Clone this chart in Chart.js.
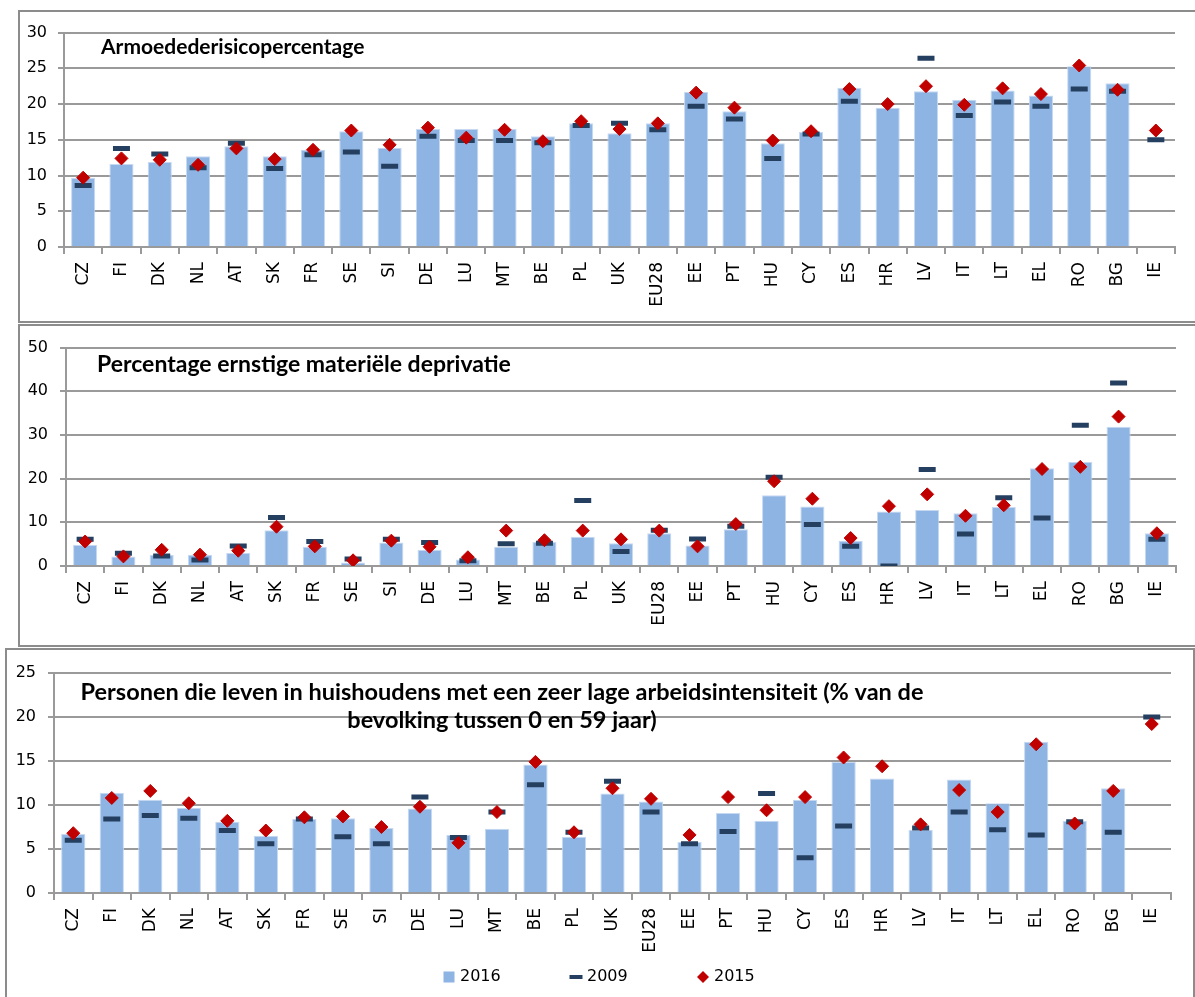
<!DOCTYPE html>
<html>
<head>
<meta charset="utf-8">
<script src="https://cdn.jsdelivr.net/npm/chart.js@4.4.1/dist/chart.umd.min.js"></script>
<style>
  body { margin: 0; width: 1195px; height: 997px; overflow: hidden; background: #fff; position: relative; }
  .panel { position: absolute; border: 2px solid #8c8c8c; box-sizing: border-box; }
  canvas { position: absolute; }
</style>
</head>
<body>
<div class="panel" style="left:18px; top:10px; width:1200px; height:313px;"></div>
<div class="panel" style="left:18px; top:324px; width:1200px; height:323px;"></div>
<div class="panel" style="left:5px; top:648px; width:1190px; height:400px;"></div>
<canvas id="chart1" width="1175" height="309" style="left:20px; top:12px;"></canvas>
<canvas id="chart2" width="1175" height="319" style="left:20px; top:326px;"></canvas>
<canvas id="chart3" width="1186" height="347" style="left:7px; top:650px;"></canvas>
<script>
const countries = ['CZ','FI','DK','NL','AT','SK','FR','SE','SI','DE','LU','MT','BE','PL','UK','EU28','EE','PT','HU','CY','ES','HR','LV','IT','LT','EL','RO','BG','IE'];

// armoederisico
const poverty2016 = [9.7, 11.6, 11.9, 12.7, 14.1, 12.7, 13.6, 16.2, 13.9, 16.5, 16.5, 16.5, 15.5, 17.3, 15.9, 17.3, 21.7, 19.0, 14.5, 16.1, 22.3, 19.5, 21.8, 20.6, 21.9, 21.2, 25.3, 22.9, null];
const poverty2009 = [8.6, 13.8, 13.0, 11.1, 14.5, 11.0, 12.9, 13.3, 11.3, 15.5, 14.9, 14.9, 14.6, 17.0, 17.3, 16.4, 19.7, 17.9, 12.4, 15.8, 20.4, null, 26.4, 18.4, 20.3, 19.7, 22.1, 21.8, 15.0];
const poverty2015 = [9.7, 12.4, 12.2, 11.5, 13.8, 12.3, 13.6, 16.3, 14.3, 16.7, 15.3, 16.4, 14.8, 17.6, 16.5, 17.3, 21.6, 19.5, 14.9, 16.2, 22.1, 20.0, 22.5, 19.9, 22.2, 21.4, 25.4, 22.0, 16.3];

// ernstige materiele deprivatie
const deprivation2016 = [4.8, 2.2, 2.6, 2.6, 3.0, 8.2, 4.4, 0.8, 5.4, 3.7, 1.5, 4.4, 5.5, 6.7, 5.2, 7.5, 4.7, 8.4, 16.2, 13.6, 5.8, 12.5, 12.8, 12.1, 13.5, 22.4, 23.8, 31.9, 7.5];
const deprivation2009 = [6.1, 2.9, 2.3, 1.4, 4.6, 11.1, 5.6, 1.6, 6.1, 5.4, 1.2, 5.1, 5.2, 15.0, 3.3, 8.2, 6.2, 9.1, 20.3, 9.5, 4.5, 0, 22.1, 7.3, 15.6, 11.0, 32.2, 41.9, 6.1];
const deprivation2015 = [5.6, 2.2, 3.7, 2.6, 3.5, 9.0, 4.5, 1.3, 5.8, 4.4, 2.0, 8.1, 5.9, 8.1, 6.1, 8.1, 4.5, 9.6, 19.4, 15.4, 6.4, 13.7, 16.4, 11.5, 13.9, 22.2, 22.7, 34.2, 7.5];

// zeer lage arbeidsintensiteit
const workless2016 = [6.7, 11.4, 10.6, 9.7, 8.1, 6.5, 8.4, 8.5, 7.4, 9.6, 6.6, 7.3, 14.6, 6.4, 11.3, 10.4, 5.8, 9.1, 8.2, 10.6, 14.9, 13.0, 7.2, 12.9, 10.2, 17.2, 8.2, 11.9, null];
const workless2009 = [6.0, 8.4, 8.8, 8.5, 7.1, 5.6, 8.4, 6.4, 5.6, 10.9, 6.3, 9.2, 12.3, 6.9, 12.7, 9.2, 5.6, 7.0, 11.3, 4.0, 7.6, null, 7.4, 9.2, 7.2, 6.6, 8.1, 6.9, 20.0];
const workless2015 = [6.8, 10.8, 11.6, 10.2, 8.2, 7.1, 8.6, 8.7, 7.5, 9.8, 5.7, 9.2, 14.9, 6.9, 11.9, 10.7, 6.6, 10.9, 9.4, 10.9, 15.4, 14.4, 7.8, 11.7, 9.2, 16.9, 7.9, 11.6, 19.2];

const seriesNames = ['2016', '2009', '2015'];

const barBlue = '#8eb4e3';
const dashBlue = '#243f60';
const red = '#c00000';
const gridGray = '#9a9a9a';

// title text inside the plot area
const panelTitle = {
  id: 'panelTitle',
  afterDraw(chart, args, opts) {
    const ctx = chart.ctx;
    ctx.save();
    ctx.font = opts.titleFont;
    ctx.fillStyle = '#000';
    ctx.textAlign = opts.align;
    ctx.textBaseline = 'alphabetic';
    opts.lines.forEach((line, i) => ctx.fillText(line, opts.x, opts.y + i * opts.lineHeight));
    ctx.restore();
  }
};

// legend with wide gaps between the items (only on the last panel)
const spacedLegend = {
  id: 'spacedLegend',
  afterDraw(chart, args, opts) {
    if (!opts.show) return;
    const ctx = chart.ctx;
    ctx.save();
    ctx.font = opts.legendFont;
    ctx.textBaseline = 'middle';
    chart.data.datasets.forEach((ds, i) => {
      const cx = opts.x + i * opts.spacing;
      const cy = opts.y;
      if (ds.type === 'bar') {
        ctx.fillStyle = ds.backgroundColor;
        ctx.fillRect(cx - 5.5, cy - 5.5, 11, 11);
      } else if (ds.pointStyle === 'line') {
        ctx.strokeStyle = ds.pointBorderColor;
        ctx.lineWidth = 4;
        ctx.beginPath();
        ctx.moveTo(cx - 6.5, cy);
        ctx.lineTo(cx + 6.5, cy);
        ctx.stroke();
      } else {
        ctx.fillStyle = ds.pointBackgroundColor;
        ctx.beginPath();
        ctx.moveTo(cx - 6, cy);
        ctx.lineTo(cx, cy - 6);
        ctx.lineTo(cx + 6, cy);
        ctx.lineTo(cx, cy + 6);
        ctx.closePath();
        ctx.fill();
      }
      ctx.fillStyle = '#000';
      ctx.fillText(ds.label, cx + opts.gap, cy);
    });
    ctx.restore();
  }
};

function panelChart(id, bars, dashes, diamonds, p) {
  return new Chart(document.getElementById(id), {
    type: 'bar',
    data: {
      labels: countries,
      datasets: [
        { type: 'bar', label: seriesNames[0], data: bars, backgroundColor: barBlue, borderColor: '#c6d9f1', borderWidth: 1,
          barPercentage: 0.63, categoryPercentage: 1, order: 3 },
        { type: 'line', label: seriesNames[1], data: dashes, showLine: false, pointStyle: 'line',
          pointRadius: 8.5, pointHoverRadius: 8.5, pointBorderWidth: 5, borderWidth: 5,
          borderColor: dashBlue, pointBorderColor: dashBlue, backgroundColor: dashBlue, order: 2 },
        { type: 'line', label: seriesNames[2], data: diamonds, showLine: false, pointStyle: 'rectRot',
          pointRadius: 6.5, pointHoverRadius: 6.5, pointBorderWidth: 1, borderWidth: 1,
          borderColor: red, pointBorderColor: red, backgroundColor: red, pointBackgroundColor: red, order: 1 }
      ]
    },
    options: {
      responsive: false,
      animation: false,
      devicePixelRatio: 1,
      layout: { padding: { top: p.top, right: p.right, left: 0, bottom: 0 } },
      plugins: {
        legend: { display: false },
        tooltip: { enabled: false },
        panelTitle: p.title,
        spacedLegend: p.legend || { show: false }
      },
      scales: {
        x: {
          grid: { drawOnChartArea: false, drawTicks: true, tickLength: 7, color: gridGray, lineWidth: 2, offset: true },
          border: { display: true, color: gridGray, width: 2 },
          ticks: { minRotation: 90, maxRotation: 90, autoSkip: false, padding: 8, color: '#000',
                   font: { family: 'DejaVu Sans', size: 17 } },
          afterFit: s => { s.height = p.xHeight; }
        },
        y: {
          min: 0, max: p.max,
          grid: { color: gridGray, lineWidth: 2, tickLength: 6 },
          border: { display: true, color: gridGray, width: 2 },
          ticks: { stepSize: p.step, padding: p.pad, color: '#000', font: { family: 'DejaVu Sans', size: 16 } },
          afterFit: s => { s.width = p.yWidth; }
        }
      }
    },
    plugins: [panelTitle, spacedLegend]
  });
}

panelChart('chart1', poverty2016, poverty2009, poverty2015, {
  top: 12, right: 20, xHeight: 74, yWidth: 44, max: 30, step: 5, pad: 11,
  title: { lines: ['Armoedederisicopercentage'], x: 81, y: 42, lineHeight: 0, align: 'left', titleFont: 'bold 21px Lato' }
});

panelChart('chart2', deprivation2016, deprivation2009, deprivation2015, {
  top: 13, right: 19, xHeight: 79, yWidth: 46, max: 50, step: 10, pad: 12,
  title: { lines: ['Percentage ernstige materiële deprivatie'], x: 77, y: 46, lineHeight: 0, align: 'left', titleFont: 'bold 23px Lato' }
});

panelChart('chart3', workless2016, workless2009, workless2015, {
  top: 23, right: 22, xHeight: 104, yWidth: 47, max: 25, step: 5, pad: 12,
  title: { lines: ['Personen die leven in huishoudens met een zeer lage arbeidsintensiteit (% van de', 'bevolking tussen 0 en 59 jaar)'],
           x: 495, y: 50, lineHeight: 28, align: 'center', titleFont: 'bold 23.5px Lato' },
  legend: { show: true, x: 442, y: 327, spacing: 127, gap: 11, legendFont: '16px "DejaVu Sans"' }
});
</script>
</body>
</html>
